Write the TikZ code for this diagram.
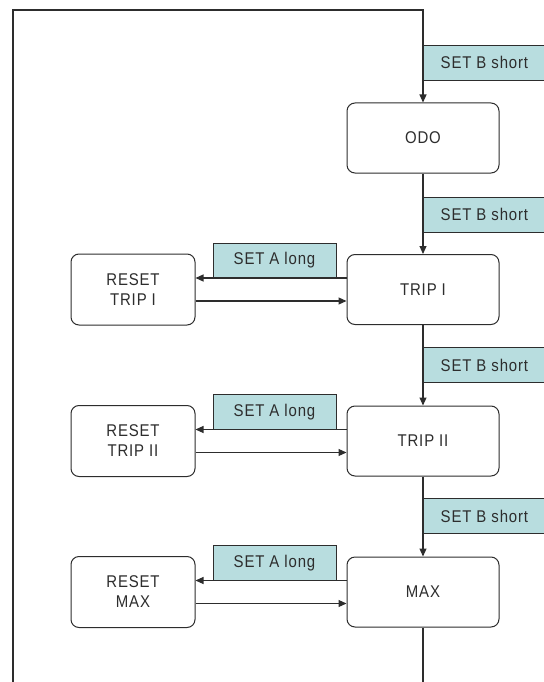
\documentclass[tikz,border=0pt]{standalone}
\usepackage{fontspec}
\setmainfont[FakeStretch=0.88,LetterSpace=5]{Liberation Sans}
\usetikzlibrary{arrows.meta}
\definecolor{keyfill}{RGB}{184,221,223}
\definecolor{ink}{RGB}{45,45,45}
\tikzstyle{state}=[draw=ink, rounded corners=8pt, line width=1pt, fill=white, text=ink, align=center, font=\fontsize{17}{20}\selectfont, minimum width=152pt, minimum height=70pt, inner sep=0pt]
\tikzstyle{reset}=[state, minimum width=124pt, minimum height=71pt]
\tikzstyle{key}=[draw=ink, line width=0.8pt, fill=keyfill, text=ink, font=\fontsize{17}{20}\selectfont, minimum width=122pt, minimum height=35pt, inner sep=0pt]
\tikzstyle{flow}=[draw=ink, line width=1.1pt, -{Triangle[length=8pt,width=7pt]}]

\begin{document}
\begin{tikzpicture}[x=1pt, y=-1pt]
    \useasboundingbox (0,0) rectangle (543,682);
    \coordinate (botl) at (13,682);
    \coordinate (topl) at (13,10);
    \coordinate (topr) at (423,10);
    \coordinate (botr) at (423,682);
    % keys on the main line
    \node[key, anchor=west] (kb1) at (423,62.5) {SET B short};
    \node[key, anchor=west] (kb2) at (423,214.5) {SET B short};
    \node[key, anchor=west] (kb3) at (423,365) {SET B short};
    \node[key, anchor=west] (kb4) at (423,516) {SET B short};
    % keys between the boxes
    \node[key, minimum width=123pt] (ka1) at (274.5,260.5) {SET A long};
    \node[key, minimum width=123pt] (ka2) at (274.5,412) {SET A long};
    \node[key, minimum width=123pt] (ka3) at (274.5,563) {SET A long};
    % states
    \node[state] (odo) at (423,138) {ODO};
    \node[state] (trip1) at (423,289.5) {TRIP I};
    \node[state] (trip2) at (423,441) {TRIP II};
    \node[state] (max) at (423,592) {MAX};
    \node[reset] (rtrip1) at (133,289.5) {RESET\\TRIP I};
    \node[reset] (rtrip2) at (133,441) {RESET\\TRIP II};
    \node[reset] (rmax) at (133,592) {RESET\\MAX};
    % main loop
    \draw[flow] (botl) -- (topl) -- (topr) -- (odo.north);
    \draw[flow] (odo.south) -- (trip1.north);
    \draw[flow] (trip1.south) -- (trip2.north);
    \draw[flow] (trip2.south) -- (max.north);
    \draw[flow, -] (max.south) -- (botr);
    % resets
    \draw[flow] ([yshift=11.5pt]trip1.west) -- ([yshift=11.5pt]rtrip1.east);
    \draw[flow] ([yshift=-11.5pt]rtrip1.east) -- ([yshift=-11.5pt]trip1.west);
    \draw[flow] ([yshift=11.5pt]trip2.west) -- ([yshift=11.5pt]rtrip2.east);
    \draw[flow] ([yshift=-11.5pt]rtrip2.east) -- ([yshift=-11.5pt]trip2.west);
    \draw[flow] ([yshift=11.5pt]max.west) -- ([yshift=11.5pt]rmax.east);
    \draw[flow] ([yshift=-11.5pt]rmax.east) -- ([yshift=-11.5pt]max.west);
\end{tikzpicture}
\end{document}
